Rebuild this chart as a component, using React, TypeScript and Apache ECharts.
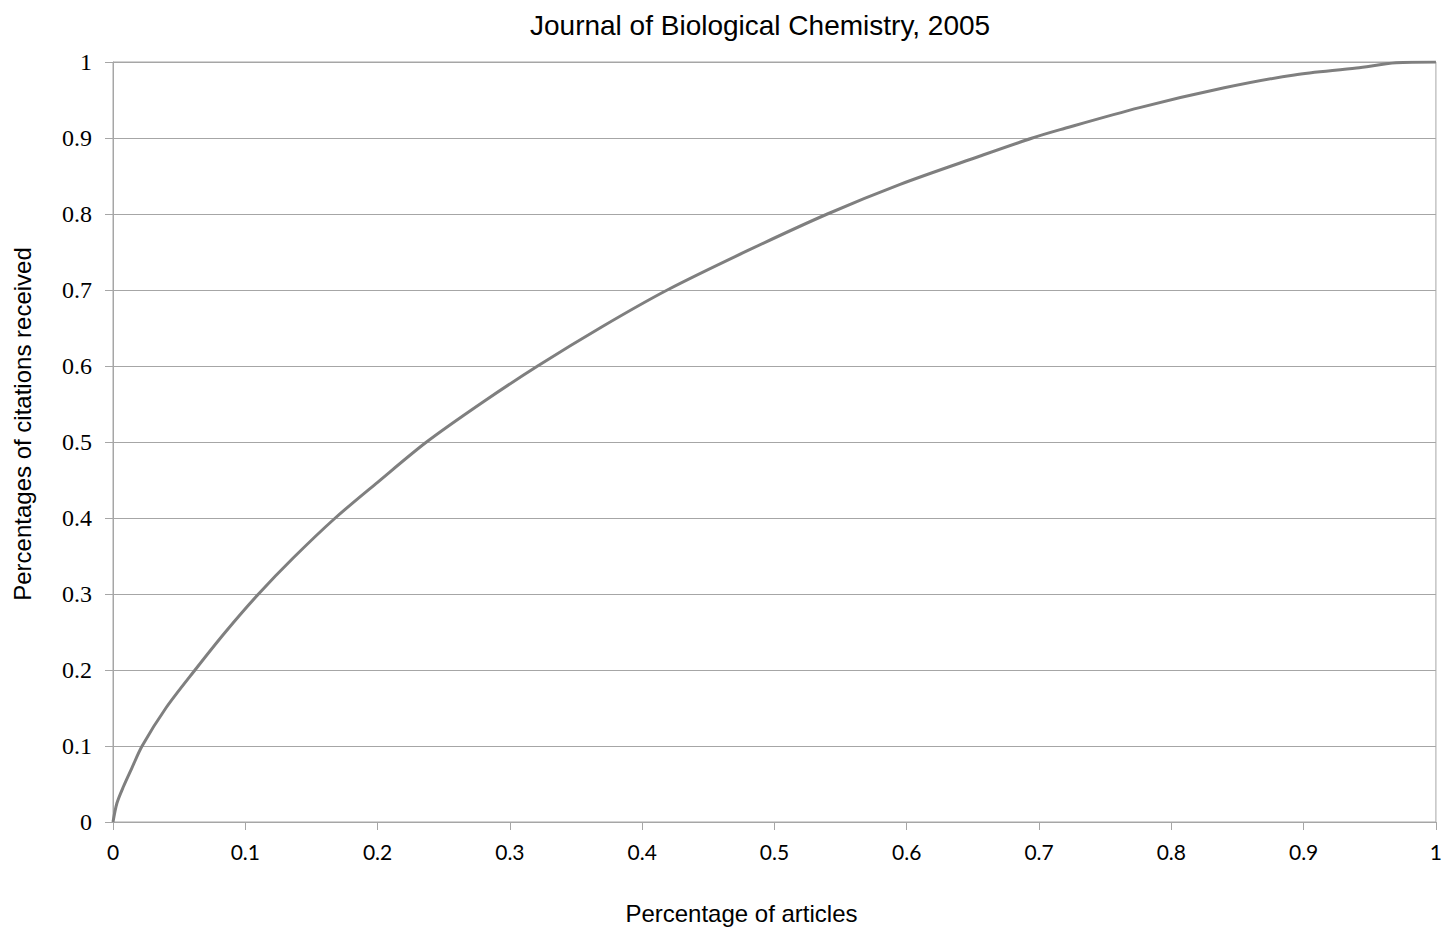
import React, { useEffect, useRef } from "react";
import * as echarts from "echarts";

const xValues = [0, 0.003, 0.008, 0.014, 0.022, 0.04, 0.062, 0.085, 0.11, 0.136, 0.168, 0.2, 0.237, 0.28, 0.321, 0.37, 0.419, 0.48, 0.54, 0.595, 0.655, 0.695, 0.716, 0.776, 0.84, 0.893, 0.94, 0.97, 1];
const yValues = [0, 0.025, 0.047, 0.07, 0.1, 0.15, 0.2, 0.25, 0.3, 0.347, 0.4, 0.447, 0.5, 0.553, 0.6, 0.652, 0.7, 0.752, 0.8, 0.839, 0.876, 0.9, 0.911, 0.94, 0.966, 0.983, 0.992, 0.999, 1];

const titleText = "Journal of Biological Chemistry, 2005";
const xName = "Percentage of articles";
const yName = "Percentages of citations received";

export default function App() {
  const ref = useRef<HTMLDivElement>(null);
  useEffect(() => {
    if (!ref.current) return;
    const chart = echarts.init(ref.current, null, { renderer: "svg" });
    const gray = "#a6a6a6";
    chart.setOption({
      animation: false,
      backgroundColor: "#fff",
      title: {
        text: titleText,
        left: 525,
        top: 6,
        textStyle: { fontFamily: "Liberation Sans", fontSize: 28, fontWeight: "normal", color: "#000" },
      },
      grid: {
        left: 113,
        right: 9,
        top: 62,
        bottom: 105,
        show: true,
        borderColor: gray,
        borderWidth: 1,
      },
      xAxis: {
        type: "value",
        min: 0,
        max: 1,
        interval: 0.1,
        name: xName,
        nameLocation: "middle",
        nameGap: 79,
        nameTextStyle: { fontFamily: "Liberation Sans", fontSize: 24, color: "#000", padding: [0, 66, 0, 0] },
        axisLine: { show: true, lineStyle: { color: gray, width: 1 } },
        axisTick: { show: true, length: 8, lineStyle: { color: gray } },
        axisLabel: { fontFamily: "Lato", fontSize: 21, color: "#000", margin: 19 },
        splitLine: { show: false },
      },
      yAxis: {
        type: "value",
        min: 0,
        max: 1,
        interval: 0.1,
        name: yName,
        nameLocation: "middle",
        nameGap: 79,
        nameTextStyle: { fontFamily: "Liberation Sans", fontSize: 24, color: "#000", padding: [0, 0, 0, 36] },
        axisLine: { show: true, lineStyle: { color: gray, width: 1 } },
        axisTick: { show: true, length: 8, lineStyle: { color: gray } },
        axisLabel: { fontFamily: "Liberation Serif", fontSize: 24, color: "#000", margin: 21 },
        splitLine: { show: true, lineStyle: { color: gray, width: 1 } },
      },
      series: [
        {
          type: "line",
          data: xValues.map((x, i) => [x, yValues[i]]),
          showSymbol: false,
          smooth: 0.3,
          lineStyle: { color: "#7f7f7f", width: 3 },
        },
      ],
    });
    return () => chart.dispose();
  }, []);
  return (
    <div
      ref={ref}
      style={{ position: "fixed", left: 0, top: 0, width: 1445, height: 930, background: "#fff" }}
    />
  );
}
